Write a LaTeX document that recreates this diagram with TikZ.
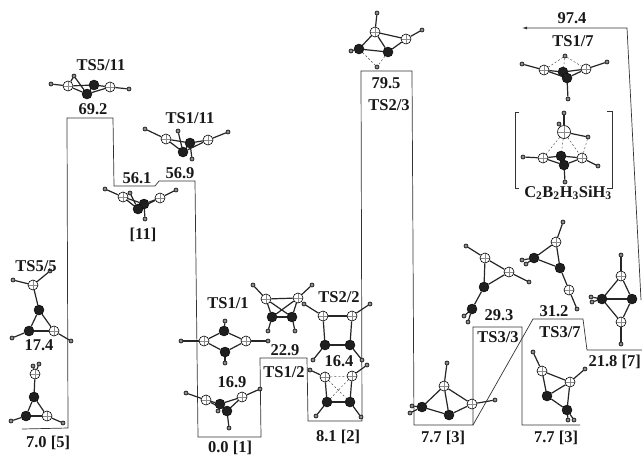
\documentclass[tikz,border=0pt]{standalone}
\usepackage{fontspec}
\usetikzlibrary{arrows.meta}
\setmainfont{Liberation Serif}
\begin{document}
\begin{tikzpicture}[x=1pt,y=-1pt,
  wa/.style={circle,draw=black,line width=.6pt,fill=white,inner sep=0pt,minimum size=10pt,
    path picture={\draw[line width=.25pt,black!45] (path picture bounding box.west)--(path picture bounding box.east) (path picture bounding box.north)--(path picture bounding box.south);}},
  si/.style={wa,minimum size=13pt},
  ba/.style={circle,draw=black,fill=black!88,inner sep=0pt,minimum size=10pt},
  ha/.style={circle,draw=black,fill=black!45,line width=.6pt,inner sep=0pt,minimum size=4pt},
  bond/.style={line width=1.2pt,black!85},
  dbond/.style={line width=.45pt,black!70,dash pattern=on 2pt off 2pt},
  level/.style={line width=.7pt,black!80},
  lab/.style={font=\fontsize{16.5}{18}\selectfont\bfseries,inner sep=0pt,text=black!90}]
\newcommand\atoms[2]{\foreach \n/\px/\py in {#2}{\node[#1] (\n) at (\px,\py) {};}}
\newcommand\bonds[1]{\foreach \p/\q in {#1}{\draw[bond] (\p)--(\q);}}
\newcommand\dbonds[1]{\foreach \p/\q in {#1}{\draw[dbond] (\p)--(\q);}}
\useasboundingbox (0,0) rectangle (642,456);
\fill[white] (0,0) rectangle (642,456);

% energy levels
\draw[level] (22,429)--(68,428)--(67,118)--(113,118)--(114,186)--(155,186)--(159,181)--(195,181)--(198,437)--(261,437)--(260,358)--(307,358)--(308,421)--(362,421)--(361,71)--(412,71)--(414,425)--(473,425)--(473,327)--(522,327)--(522,425)--(580,425);
\draw[level] (473,425)--(533,319)--(583,319)--(587,350)--(642,350);
\draw[level,-{Latex[length=5pt,width=3pt]}] (641,300)--(627,28)--(522,28);

% TS5/11
\atoms{ha}{a1/51/84,a2/74/76,a3/129/89}
\atoms{wa}{a4/68/86,a5/110/87}
\atoms{ba}{a6/94/85,a7/87/94}
\bonds{a1/a4,a4/a2,a2/a7,a4/a7,a4/a6,a6/a7,a6/a5,a7/a5,a5/a3}
% TS1/11
\atoms{ha}{b1/145/129,b2/178/131,b3/228/132,b4/192/159}
\atoms{wa}{b5/166/139,b6/208/140}
\atoms{ba}{b7/190/143,b8/183/152}
\bonds{b1/b5,b5/b8,b5/b7,b7/b8,b7/b6,b8/b6,b6/b3,b2/b8,b7/b4}
% [11]
\atoms{ha}{c1/105/189,c2/130/193,c3/176/190,c4/145/219}
\atoms{wa}{c5/123/197,c6/160/198}
\atoms{ba}{c7/144/204,c8/138/209}
\bonds{c1/c5,c5/c2,c2/c8,c5/c8,c5/c7,c7/c8,c7/c6,c8/c6,c6/c3,c7/c4}
% TS5/5
\atoms{ha}{d1/13/280,d2/50/271,d3/12/338,d4/71/341}
\atoms{wa}{d5/33/285,d6/54/331}
\atoms{ba}{d7/39/310,d8/29/331}
\bonds{d1/d5,d2/d5,d5/d7,d7/d8,d7/d6,d8/d6,d8/d3,d6/d4}
% [5]
\atoms{ha}{e1/33/366,e2/39/364,e3/11/421,e4/63/423}
\atoms{wa}{e5/35/374,e6/47/416}
\atoms{ba}{e7/34/397,e8/26/416}
\bonds{e1/e5,e2/e5,e5/e7,e7/e8,e7/e6,e8/e6,e8/e3,e6/e4}
% TS1/1
\atoms{ha}{f1/181/341,f2/225/321,f3/268/341,f4/225/363}
\atoms{wa}{f5/204/341,f6/246/341}
\atoms{ba}{f7/224/331,f8/225/352}
\bonds{f1/f5,f5/f7,f5/f8,f7/f6,f8/f6,f6/f3,f7/f2,f8/f4}
% [1]
\atoms{ha}{g1/186/393,g2/260/389,g3/229/428,g4/218/411}
\atoms{wa}{g5/206/400,g6/242/397}
\atoms{ba}{g7/220/404,g8/227/411}
\bonds{g1/g5,g5/g7,g5/g8,g7/g8,g7/g6,g8/g6,g6/g2,g8/g3,g7/g4}
% TS1/2
\atoms{ha}{h1/253/285,h2/312/285,h3/268/331,h4/295/331}
\atoms{wa}{h5/266/299,h6/298/298}
\atoms{ba}{h7/272/317,h8/292/317}
\bonds{h1/h5,h2/h6,h5/h6,h5/h7,h5/h8,h6/h7,h6/h8,h7/h8,h7/h3,h8/h4}
% TS2/2
\atoms{ha}{i1/304/304,i2/370/304,i3/313/360,i4/362/360}
\atoms{wa}{i5/323/316,i6/352/316}
\atoms{ba}{i7/325/345,i8/350/345}
\bonds{i1/i5,i2/i6,i5/i6,i5/i7,i6/i8,i7/i8,i7/i3,i8/i4}
% [2]
\atoms{ha}{j1/310/370,j2/367/365,j3/316/416,j4/361/417}
\atoms{wa}{j5/325/377,j6/352/376}
\atoms{ba}{j7/327/402,j8/350/402}
\bonds{j1/j5,j2/j6,j5/j7,j6/j8,j7/j8,j7/j3,j8/j4}
\dbonds{j5/j6,j5/j8,j6/j7}
% TS2/3
\atoms{ha}{k1/377/13,k2/422/30,k3/351/51,k4/377/67}
\atoms{wa}{k5/375/32,k6/406/39}
\atoms{ba}{k7/359/49,k8/388/52}
\bonds{k1/k5,k5/k6,k6/k2,k5/k7,k5/k8,k6/k8,k7/k8,k7/k3}
\dbonds{k7/k4,k8/k4}
% TS1/7
\atoms{ha}{l1/565/56,l2/522/64,l3/607/62,l4/568/99}
\atoms{wa}{l5/544/70,l6/586/69}
\atoms{ba}{l7/563/72,l8/567/78}
\bonds{l2/l5,l6/l3,l5/l7,l5/l8,l7/l8,l7/l6,l8/l6,l8/l4}
\dbonds{l1/l5,l1/l6,l1/l7}
% C2B2H3SiH3
\atoms{ha}{m1/564/113,m2/559/124,m3/588/137,m4/523/157,m5/598/166,m6/565/182}
\atoms{si}{m7/564/132}
\atoms{wa}{m8/543/158,m9/582/158}
\atoms{ba}{m10/561/156,m11/564/165}
\bonds{m1/m7,m2/m7,m3/m7,m4/m8,m9/m5,m8/m10,m8/m11,m10/m11,m10/m9,m11/m9,m11/m6}
\dbonds{m7/m8,m7/m9,m7/m10,m3/m9}
\draw[level] (519,112)--(515,112)--(515,188)--(519,188);
\draw[level] (607,111)--(612,111)--(612,188)--(607,188);
% 29.3
\atoms{ha}{n1/466/246,n2/529/282,n3/464/316,n4/468/322}
\atoms{wa}{n5/485/258,n6/509/272}
\atoms{ba}{n7/484/287,n8/472/309}
\bonds{n1/n5,n5/n6,n6/n2,n5/n7,n6/n7,n7/n8,n8/n3,n8/n4}
% 31.2
\atoms{ha}{o1/563/222,o2/522/260,o3/526/264,o4/577/309}
\atoms{wa}{o5/556/242,o6/569/290}
\atoms{ba}{o7/534/258,o8/560/268}
\bonds{o1/o5,o5/o7,o5/o8,o7/o8,o7/o2,o7/o3,o8/o6,o6/o4}
% 21.8
\atoms{ha}{p1/621/255,p2/621/344,p3/591/297,p4/592/302}
\atoms{wa}{p5/621/276,p6/621/322}
\atoms{ba}{p7/602/299,p8/632/299}
\bonds{p1/p5,p5/p7,p5/p8,p7/p8,p7/p6,p8/p6,p6/p2,p7/p3,p7/p4}
% 7.7 left
\atoms{ha}{q1/447/363,q2/495/400,q3/412/406,q4/410/413}
\atoms{wa}{q5/444/386,q6/472/404}
\atoms{ba}{q7/422/407,q8/449/415}
\bonds{q1/q5,q5/q7,q5/q6,q5/q8,q7/q8,q8/q6,q6/q2,q7/q3,q7/q4}
% 7.7 right
\atoms{ha}{r1/533/352,r2/585/369,r3/568/420,r4/574/420}
\atoms{wa}{r5/542/371,r6/570/382}
\atoms{ba}{r7/547/396,r8/567/410}
\bonds{r1/r5,r5/r6,r6/r2,r5/r7,r6/r7,r6/r8,r7/r8,r8/r3,r8/r4}

% labels
\node[lab] (t1) at (101,65) {TS5/11};
\node[lab] (t2) at (93,109) {69.2};
\node[lab] (t3) at (190,118) {TS1/11};
\node[lab] (t4) at (137,178) {56.1};
\node[lab] (t5) at (180,173) {56.9};
\node[lab] (t6) at (143,235) {[11]};
\node[lab] (t7) at (36,266) {TS5/5};
\node[lab] (t8) at (39,345) {17.4};
\node[lab] (t9) at (48,443) {7.0 [5]};
\node[lab] (t10) at (228,303) {TS1/1};
\node[lab] (t11) at (285,350) {22.9};
\node[lab] (t12) at (284,372) {TS1/2};
\node[lab] (t13) at (232,382) {16.9};
\node[lab] (t14) at (230,448) {0.0 [1]};
\node[lab] (t15) at (339,297) {TS2/2};
\node[lab] (t16) at (339,361) {16.4};
\node[lab] (t17) at (338,437) {8.1 [2]};
\node[lab] (t18) at (386,83) {79.5};
\node[lab] (t19) at (389,105) {TS2/3};
\node[lab] (t20) at (572,18) {97.4};
\node[lab] (t21) at (573,41) {TS1/7};
\node[lab] (t22) at (568,193) {C\textsubscript{2}B\textsubscript{2}H\textsubscript{3}SiH\textsubscript{3}};
\node[lab] (t23) at (499,315) {29.3};
\node[lab] (t24) at (498,337) {TS3/3};
\node[lab] (t25) at (554,311) {31.2};
\node[lab] (t26) at (560,332) {TS3/7};
\node[lab,anchor=east] (t27) at (641,362) {21.8 [7]};
\node[lab] (t28) at (443,438) {7.7 [3]};
\node[lab] (t29) at (556,438) {7.7 [3]};
\end{tikzpicture}
\end{document}
